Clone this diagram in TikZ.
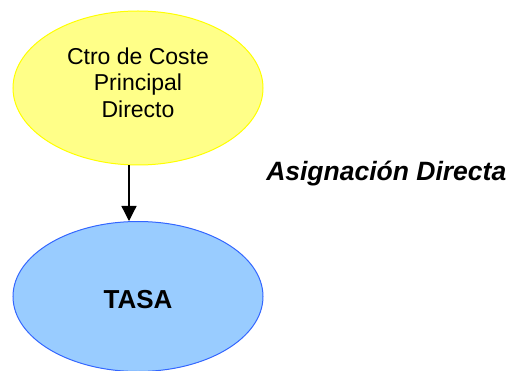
\documentclass[tikz,border=0pt]{standalone}
\usepackage{fontspec}
\setmainfont{Liberation Sans}
\usetikzlibrary{shapes.geometric,arrows.meta}
\definecolor{ylwfill}{RGB}{255,255,136}
\definecolor{ylwline}{RGB}{255,255,0}
\definecolor{bluefill}{RGB}{153,204,255}
\definecolor{blueline}{RGB}{51,102,255}
\tikzset{
  ovalnode/.style={ellipse, inner sep=0pt, minimum width=250pt, line width=1pt},
  txt/.style={inner sep=0pt, align=center},
  arr/.style={line width=1.3pt, -{Triangle[width=15pt,length=15pt]}},
}
\begin{document}
\begin{tikzpicture}[x=1pt,y=-1pt]
\useasboundingbox (0,0) rectangle (508,371);
\node[ovalnode, minimum height=154pt, fill=ylwfill, draw=ylwline] (top) at (138,88) {};
\node[txt, font=\fontsize{23}{26.7}\selectfont] (toptxt) at (138,82.5) {Ctro de Coste\\Principal\\Directo};
\node[ovalnode, minimum height=150pt, fill=bluefill, draw=blueline] (bot) at (138,296.5) {};
\node[txt, font=\fontsize{26}{30}\selectfont\bfseries] (bottxt) at (138,299.3) {TASA};
\coordinate (arrx) at (129,0);
\draw[arr] (top.south -| arrx) -- (bot.north -| arrx);
\node[font=\fontsize{26.5}{30}\selectfont\bfseries\itshape, anchor=base east, inner sep=0pt] (lbl) at (506.5,180.7) {Asignación Directa};
\end{tikzpicture}
\end{document}
